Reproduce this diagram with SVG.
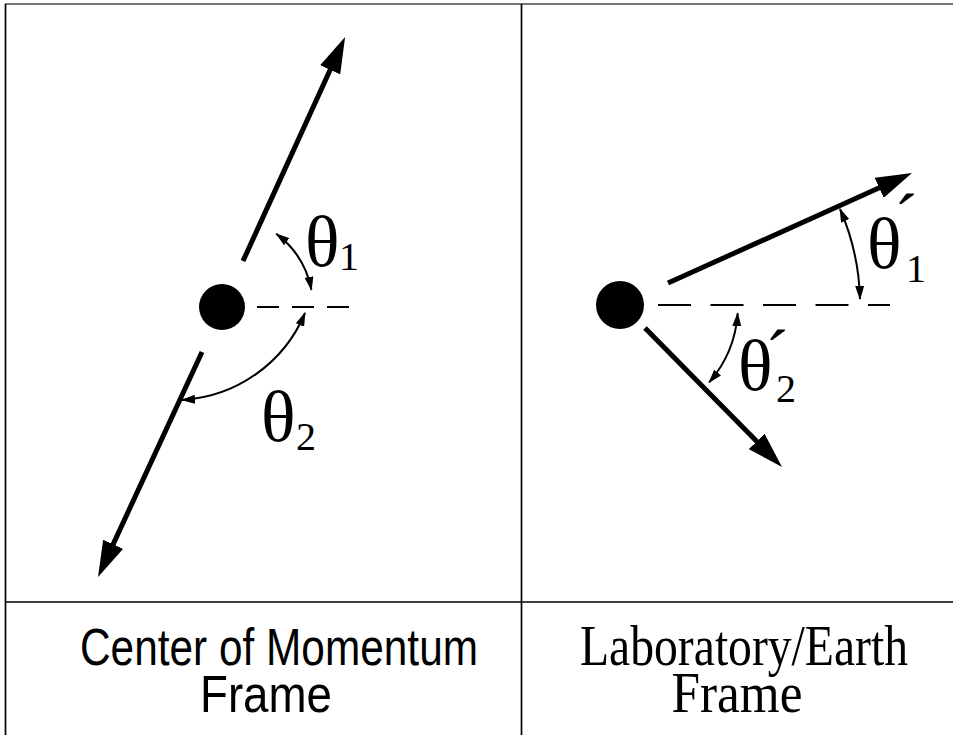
<svg xmlns="http://www.w3.org/2000/svg" width="953" height="735" viewBox="0 0 953 735">
<defs>
<style>
.frame{stroke:#000;stroke-width:1.7;fill:none}
.vec{stroke:#000;stroke-width:5;fill:none;stroke-linecap:butt}
.arc{stroke:#000;stroke-width:2;fill:none}
.dash{stroke:#000;stroke-width:2;fill:none}
.sym{font-family:"Liberation Serif","Times New Roman",serif;fill:#000}
.sans{font-family:"Liberation Sans",Arial,sans-serif;fill:#000}
.serif{font-family:"Liberation Serif","Times New Roman",serif;fill:#000}
</style>
<marker id="big" markerUnits="userSpaceOnUse" viewBox="0 0 36 22" markerWidth="36" markerHeight="22" refX="2" refY="11" orient="auto">
<path d="M0,0 L36,11 L0,22 Z" fill="#000"/>
</marker>
<marker id="small" markerUnits="userSpaceOnUse" viewBox="0 0 14 9" markerWidth="14" markerHeight="9" refX="13" refY="4.5" orient="auto-start-reverse">
<path d="M0,0 L14,4.5 L0,9 Z" fill="#000"/>
</marker>
</defs>
<rect width="953" height="735" fill="#fff"/>
<g id="table">
<line x1="5" y1="4" x2="953" y2="4" stroke="#777" stroke-width="1.8"/>
<line class="frame" x1="5.5" y1="4" x2="5.5" y2="735"/>
<line class="frame" x1="521.5" y1="4" x2="521.5" y2="735" stroke="#222"/>
<line class="frame" x1="5" y1="602" x2="953" y2="602" stroke="#222"/>
</g>
<g id="cm-particle"><circle cx="222" cy="307" r="23" fill="#000"/></g>
<g id="lab-particle"><circle cx="620" cy="305" r="24" fill="#000"/></g>
<g id="connectors">
<line class="vec" x1="243" y1="261" x2="331" y2="68" marker-end="url(#big)"/>
<line class="vec" x1="202" y1="352" x2="112.3" y2="546.1" marker-end="url(#big)"/>
<line class="dash" x1="257" y1="307" x2="350" y2="307" stroke-dasharray="22 13"/>
<path class="arc" d="M276.3,233.9 A91 91 0 0 1 311.4,289.8" marker-start="url(#small)" marker-end="url(#small)"/>
<path class="arc" d="M305,313 A142 142 0 0 1 182,400" marker-start="url(#small)" marker-end="url(#small)"/>
<line class="vec" x1="668" y1="283" x2="881" y2="187" marker-end="url(#big)"/>
<line class="vec" x1="645" y1="328" x2="758.1" y2="442.8" marker-end="url(#big)"/>
<line class="dash" x1="658" y1="305" x2="890" y2="305" stroke-dasharray="33 19.5"/>
<path class="arc" d="M840,209 A240 240 0 0 1 860,299" marker-start="url(#small)" marker-end="url(#small)"/>
<path class="arc" d="M737.7,313.2 A118 118 0 0 1 709.1,382.4" marker-start="url(#small)" marker-end="url(#small)"/>
</g>
<g id="theta1">
<text class="sym"><tspan x="305" y="266" font-size="72">θ</tspan><tspan x="339" y="270" font-size="40">1</tspan></text>
</g>
<g id="theta2">
<text class="sym"><tspan x="261" y="441" font-size="72">θ</tspan><tspan x="296" y="450" font-size="40">2</tspan></text>
</g>
<g id="theta1p">
<text class="sym"><tspan x="867" y="268" font-size="72">θ</tspan><tspan x="894" y="243" font-size="72">´</tspan><tspan x="906" y="282" font-size="40">1</tspan></text>
</g>
<g id="theta2p">
<text class="sym"><tspan x="738" y="390" font-size="72">θ</tspan><tspan x="765" y="379" font-size="72">´</tspan><tspan x="776" y="402" font-size="40">2</tspan></text>
</g>
<g id="label-cm">
<text class="sans" font-size="52" text-anchor="middle"><tspan x="279" y="665" textLength="398" lengthAdjust="spacingAndGlyphs">Center of Momentum</tspan><tspan x="266" y="712" textLength="132" lengthAdjust="spacingAndGlyphs">Frame</tspan></text>
</g>
<g id="label-lab">
<text class="serif" font-size="58" text-anchor="middle"><tspan x="744" y="665" textLength="328" lengthAdjust="spacingAndGlyphs">Laboratory/Earth</tspan><tspan x="737" y="712" textLength="131" lengthAdjust="spacingAndGlyphs">Frame</tspan></text>
</g>
</svg>
